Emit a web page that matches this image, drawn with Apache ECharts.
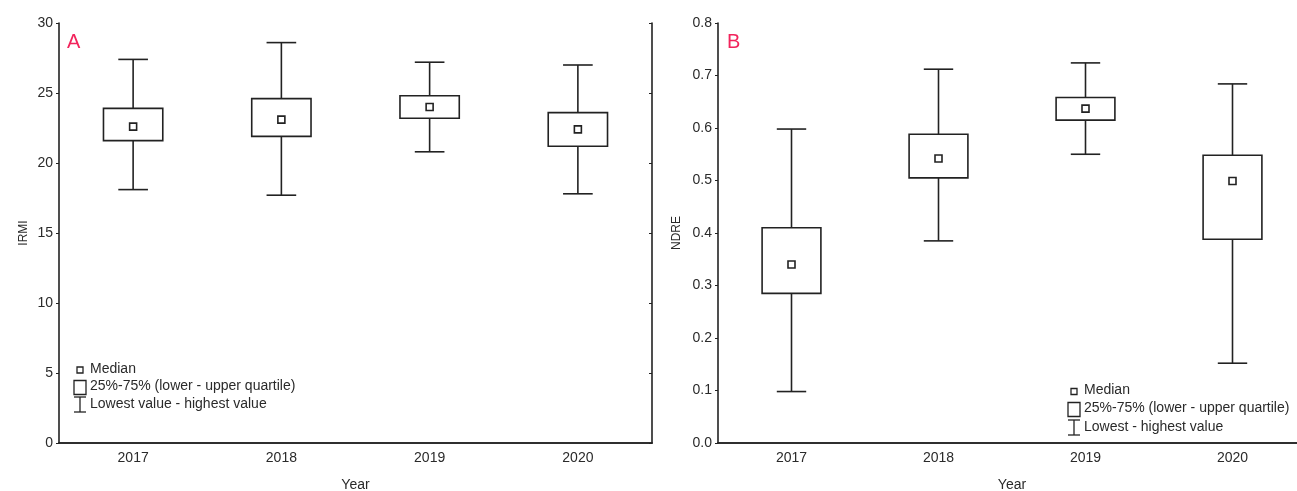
<!DOCTYPE html>
<html>
<head>
<meta charset="utf-8">
<script src="https://cdn.jsdelivr.net/npm/echarts@6/dist/echarts.min.js"></script>
<style>
html,body{margin:0;padding:0;background:#fff;}
#main{width:1297px;height:491px;}
</style>
</head>
<body>
<div id="main"></div>
<script>
// ---- data ----
const years = ['2017', '2018', '2019', '2020'];

const irmiMin    = [18.1, 17.7, 20.8, 17.8];
const irmiQ1     = [21.6, 21.9, 23.2, 21.2];
const irmiMedian = [22.6, 23.1, 24.0, 22.4];
const irmiQ3     = [23.9, 24.6, 24.8, 23.6];
const irmiMax    = [27.4, 28.6, 27.2, 27.0];

const ndreMin    = [0.098, 0.385, 0.550, 0.152];
const ndreQ1     = [0.285, 0.505, 0.615, 0.388];
const ndreMedian = [0.340, 0.542, 0.637, 0.499];
const ndreQ3     = [0.410, 0.588, 0.658, 0.548];
const ndreMax    = [0.598, 0.712, 0.724, 0.684];

const legendA = ['Median', '25%-75% (lower - upper quartile)', 'Lowest value - highest value'];
const legendB = ['Median', '25%-75% (lower - upper quartile)', 'Lowest - highest value'];

// ---- style ----
const FONT = 'Liberation Sans, Arial, sans-serif';
const INK = '#222';
const TXT = '#2a2a2a';
const LW = 1.6;

function build(mins, q1, med, q3, maxs) {
  return years.map((y, i) => [i, mins[i], q1[i], med[i], q3[i], maxs[i]]);
}

function renderBox(params, api) {
  const x = api.value(0);
  const lo = api.coord([x, api.value(1)]);
  const a = api.coord([x, api.value(2)]);
  const m = api.coord([x, api.value(3)]);
  const b = api.coord([x, api.value(4)]);
  const hi = api.coord([x, api.value(5)]);
  const band = api.size([1, 0])[0];
  const bw = band * 0.4;
  const cw = band * 0.2;
  const cx = lo[0];
  const st = {stroke: INK, lineWidth: LW, fill: null};
  const s = 7;
  return {
    type: 'group',
    children: [
      {type: 'line', shape: {x1: cx, y1: hi[1], x2: cx, y2: b[1]}, style: st},
      {type: 'line', shape: {x1: cx, y1: a[1], x2: cx, y2: lo[1]}, style: st},
      {type: 'line', shape: {x1: cx - cw / 2, y1: hi[1], x2: cx + cw / 2, y2: hi[1]}, style: st},
      {type: 'line', shape: {x1: cx - cw / 2, y1: lo[1], x2: cx + cw / 2, y2: lo[1]}, style: st},
      {type: 'rect', shape: {x: cx - bw / 2, y: b[1], width: bw, height: a[1] - b[1]}, style: {stroke: INK, lineWidth: LW, fill: '#fff'}},
      {type: 'rect', shape: {x: cx - s / 2, y: m[1] - s / 2, width: s, height: s}, style: {stroke: INK, lineWidth: LW, fill: '#fff'}}
    ]
  };
}

function xAxes(gi, name) {
  return [
    {
      type: 'category', gridIndex: gi, data: years, position: 'bottom',
      name: name, nameLocation: 'middle', nameGap: 35,
      nameTextStyle: {fontFamily: FONT, fontSize: 14, color: TXT},
      axisLine: {lineStyle: {color: INK, width: LW}},
      axisTick: {inside: true, length: 3, alignWithLabel: true, lineStyle: {color: INK}},
      axisLabel: {fontFamily: FONT, fontSize: 14, color: TXT, margin: 8},
      splitLine: {show: false}
    },
    {
      type: 'category', gridIndex: gi, data: years, position: 'top',
      axisLine: {lineStyle: {color: INK, width: LW}},
      axisTick: {inside: true, length: 3, alignWithLabel: true, lineStyle: {color: INK}},
      axisLabel: {show: false},
      splitLine: {show: false}
    }
  ];
}

function yAxes(gi, name, max, interval, gap, fmt) {
  return [
    {
      type: 'value', gridIndex: gi, min: 0, max: max, interval: interval, position: 'left',
      name: name, nameLocation: 'middle', nameGap: gap, nameRotate: 90,
      nameTextStyle: {fontFamily: FONT, fontSize: 12, color: TXT},
      axisLine: {show: true, lineStyle: {color: INK, width: LW}},
      axisTick: {show: true, inside: false, length: 3, lineStyle: {color: INK}},
      axisLabel: {fontFamily: FONT, fontSize: 14, color: TXT, margin: 6, formatter: fmt},
      splitLine: {show: false}
    },
    {
      type: 'value', gridIndex: gi, min: 0, max: max, interval: interval, position: 'right',
      axisLine: {show: true, lineStyle: {color: INK, width: LW}},
      axisTick: {show: true, inside: true, length: 3, lineStyle: {color: INK}},
      axisLabel: {show: false},
      splitLine: {show: false}
    }
  ];
}

function legendGraphics(x, yMed, yBox, yWh, labels) {
  const st = {stroke: INK, lineWidth: 1.3, fill: '#fff'};
  const ts = (t, y) => ({type: 'text', left: x + 16, top: y - 8,
    style: {text: t, font: '14px ' + FONT, fill: TXT}});
  return [
    {type: 'rect', shape: {x: x + 3, y: yMed - 3, width: 6, height: 6}, style: st},
    ts(labels[0], yMed),
    {type: 'rect', shape: {x: x, y: yBox - 7, width: 12, height: 14}, style: st},
    ts(labels[1], yBox),
    {type: 'line', shape: {x1: x, y1: yWh - 8, x2: x + 12, y2: yWh - 8}, style: st},
    {type: 'line', shape: {x1: x + 6, y1: yWh - 8, x2: x + 6, y2: yWh + 7}, style: st},
    {type: 'line', shape: {x1: x, y1: yWh + 7, x2: x + 12, y2: yWh + 7}, style: st},
    ts(labels[2], yWh)
  ];
}

const chart = echarts.init(document.getElementById('main'), null, {renderer: 'canvas'});
const option = {
  backgroundColor: '#fff',
  animation: false,
  grid: [
    {left: 59, top: 23, width: 593, height: 420, containLabel: false, outerBoundsMode: 'none'},
    {left: 718, top: 23, width: 588, height: 420, containLabel: false, outerBoundsMode: 'none'}
  ],
  xAxis: [...xAxes(0, 'Year'), ...xAxes(1, 'Year')],
  yAxis: [
    ...yAxes(0, 'IRMI', 30, 5, 29, v => String(v)),
    ...yAxes(1, 'NDRE', 0.8, 0.1, 35, v => v.toFixed(1))
  ],
  series: [
    {type: 'custom', xAxisIndex: 0, yAxisIndex: 0, renderItem: renderBox,
      data: build(irmiMin, irmiQ1, irmiMedian, irmiQ3, irmiMax), encode: {x: 0, y: [1, 2, 3, 4, 5]}},
    {type: 'custom', xAxisIndex: 2, yAxisIndex: 2, renderItem: renderBox,
      data: build(ndreMin, ndreQ1, ndreMedian, ndreQ3, ndreMax), encode: {x: 0, y: [1, 2, 3, 4, 5]}}
  ],
  graphic: [
    {type: 'text', left: 67, top: 32, style: {text: 'A', font: '20px ' + FONT, fill: '#f2245c'}},
    {type: 'text', left: 727, top: 32, style: {text: 'B', font: '20px ' + FONT, fill: '#f2245c'}},
    ...legendGraphics(74, 370, 387.5, 405, legendA),
    ...legendGraphics(1068, 391.5, 409.5, 428, legendB)
  ]
};
chart.setOption(option);
</script>
</body>
</html>
